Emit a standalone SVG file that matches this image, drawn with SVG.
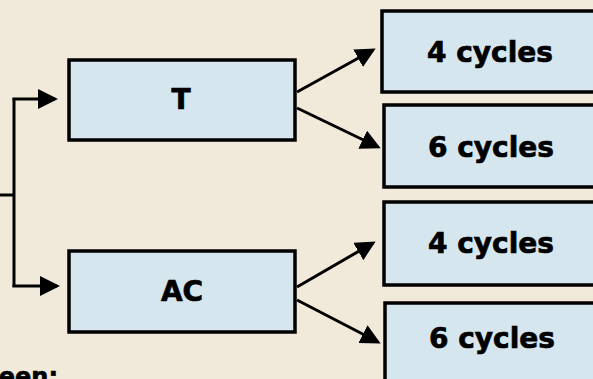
<svg xmlns="http://www.w3.org/2000/svg" width="593" height="379" viewBox="0 0 593 379">
  <defs>
    <marker id="arrow" markerUnits="userSpaceOnUse" markerWidth="22" markerHeight="22" refX="17" refY="10" orient="auto">
      <path d="M0,0 L20,10 L0,20 z" fill="#000"/>
    </marker>
    <style>
      .box { fill: #d5e6ee; stroke: #000; stroke-width: 3.5; }
      .lbl { font-family: "DejaVu Sans", Verdana, sans-serif; font-weight: bold; font-size: 28px; fill: #000; stroke: #000; stroke-width: 0.7; text-anchor: middle; }
      .wire { fill: none; stroke: #000; stroke-width: 3; }
      .arr { fill: none; stroke: #000; stroke-width: 3; marker-end: url(#arrow); }
    </style>
  </defs>

  <rect x="0" y="0" width="593" height="379" fill="#f1eadb"/>

  <g id="connectors">
    <path class="wire" d="M0,195 H14 M14,98 V287"/>
    <path class="arr" d="M12.5,99 H55"/>
    <path class="arr" d="M12.5,286 H57"/>
    <path class="arr" d="M297,92 L373,50"/>
    <path class="arr" d="M297,108 L378,147"/>
    <path class="arr" d="M297,287 L373,243"/>
    <path class="arr" d="M297,300 L378,342"/>
  </g>

  <g id="node-t">
    <rect class="box" x="69" y="60" width="226" height="80"/>
    <text class="lbl" x="181" y="109">T</text>
  </g>

  <g id="node-ac">
    <rect class="box" x="69" y="251" width="226" height="81"/>
    <text class="lbl" x="182" y="301">AC</text>
  </g>

  <g id="node-t-4">
    <rect class="box" x="382" y="11" width="230" height="81"/>
    <text class="lbl" x="490" y="62">4 cycles</text>
  </g>

  <g id="node-t-6">
    <rect class="box" x="384" y="105" width="230" height="82"/>
    <text class="lbl" x="491" y="157">6 cycles</text>
  </g>

  <g id="node-ac-4">
    <rect class="box" x="384" y="202" width="230" height="83"/>
    <text class="lbl" x="491" y="253">4 cycles</text>
  </g>

  <g id="node-ac-6">
    <rect class="box" x="385" y="303" width="230" height="100"/>
    <text class="lbl" x="492" y="348">6 cycles</text>
  </g>

  <text x="58" y="385" font-family="DejaVu Sans, Verdana, sans-serif" font-weight="bold" font-size="24" stroke="#000" stroke-width="0.6" text-anchor="end">een:</text>
</svg>
